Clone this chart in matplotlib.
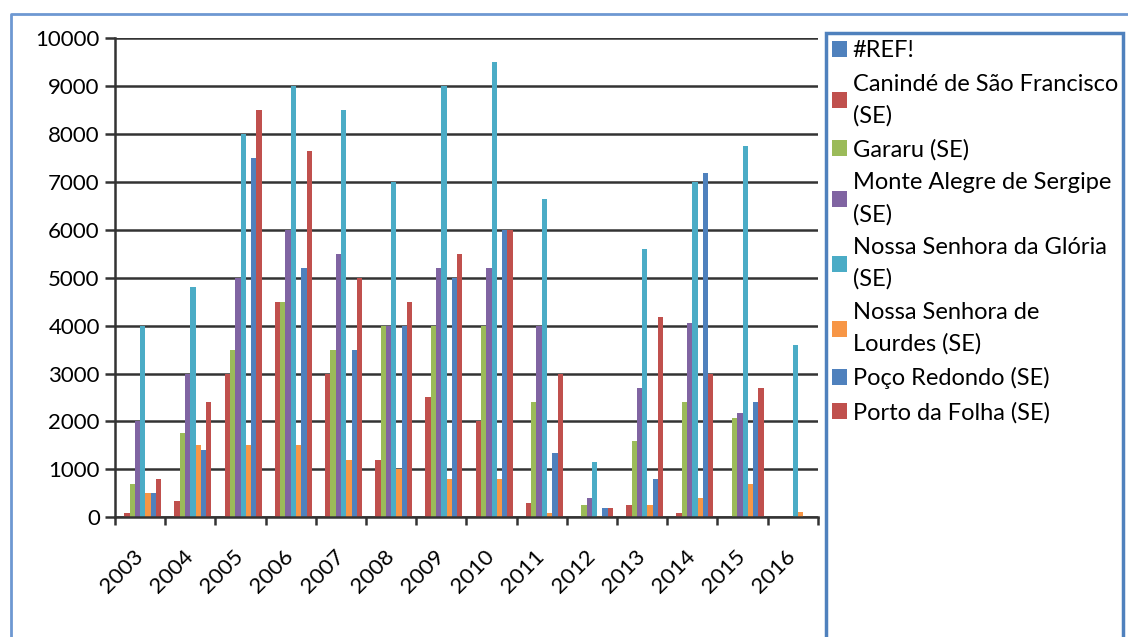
import numpy as np
import matplotlib
matplotlib.use("Agg")
import matplotlib.pyplot as plt
import matplotlib.transforms as mtransforms
from matplotlib.patches import Rectangle
from matplotlib.lines import Line2D
from matplotlib.ticker import MultipleLocator

plt.rcParams['font.family'] = ['Lato', 'DejaVu Sans']

# years on the x axis
years = ['2003', '2004', '2005', '2006', '2007', '2008', '2009',
         '2010', '2011', '2012', '2013', '2014', '2015', '2016']

# one list per municipality (the first series is a broken reference with no data)
ref_err = [0, 0, 0, 0, 0, 0, 0, 0, 0, 0, 0, 0, 0, 0]
caninde = [90, 340, 3000, 4500, 3000, 1200, 2500, 2000, 300, 0, 250, 90, 0, 0]
gararu = [700, 1750, 3500, 4500, 3500, 4000, 4000, 4000, 2400, 250, 1600, 2400, 2080, 0]
monte_alegre = [2000, 3000, 5000, 6000, 5500, 4000, 5200, 5200, 4000, 400, 2700, 4050, 2170, 0]
ns_gloria = [4000, 4800, 8000, 9000, 8500, 7000, 9000, 9500, 6650, 1150, 5600, 7000, 7760, 3600]
ns_lourdes = [510, 1500, 1500, 1500, 1200, 1000, 800, 800, 90, 30, 250, 400, 700, 100]
poco_redondo = [500, 1400, 7500, 5200, 3500, 4000, 5000, 6000, 1340, 190, 800, 7180, 2400, 0]
porto_folha = [800, 2400, 8500, 7650, 5000, 4500, 5500, 6000, 3000, 190, 4180, 3000, 2700, 0]

series = [ref_err, caninde, gararu, monte_alegre, ns_gloria, ns_lourdes,
          poco_redondo, porto_folha]
labels = ['#REF!', 'Canindé de São Francisco\n(SE)', 'Gararu (SE)',
          'Monte Alegre de Sergipe\n(SE)', 'Nossa Senhora da Glória\n(SE)',
          'Nossa Senhora de\nLourdes (SE)', 'Poço Redondo (SE)',
          'Porto da Folha (SE)']
colors = ['#4F81BD', '#C0504D', '#9BBB59', '#8064A2', '#4BACC6', '#F79646',
          '#4F81BD', '#C0504D']

fig = plt.figure(figsize=(11.28, 6.37), dpi=100)
ax = fig.add_axes([0.102, 0.188, 0.623, 0.752])

x = np.arange(len(years))
n = len(series)
w = 1.0 / 9.5
handles = []
for i, (vals, col) in enumerate(zip(series, colors)):
    b = ax.bar(x + (i - (n - 1) / 2) * w, vals, width=w, color=col,
               linewidth=0)
    handles.append(b)

ax.set_xlim(-0.5, len(years) - 0.5)
ax.set_ylim(0, 10000)
ax.yaxis.set_major_locator(MultipleLocator(1000))
ax.set_axisbelow(True)
ax.grid(axis='y', color='#333333', linewidth=1.8)

for s in ['top', 'right']:
    ax.spines[s].set_visible(False)
for s in ['left', 'bottom']:
    ax.spines[s].set_color('#333333')
    ax.spines[s].set_linewidth(1.8)

ax.set_xticks(x)
ax.set_xticklabels(years, rotation=45, ha='right', fontsize=16)
ax.set_xticks(np.arange(-0.5, len(years)), minor=True)
ax.tick_params(axis='x', which='major', length=0, pad=21)
ax.tick_params(axis='x', which='minor', length=6, width=1.8, color='#333333')
ax.tick_params(axis='y', length=7, width=1.8, color='#333333', pad=4,
               labelsize=16)

# nudge the slanted year labels a little to the right
shift = mtransforms.ScaledTranslation(7 / 100, 0, fig.dpi_scale_trans)
for lbl in ax.get_xticklabels():
    lbl.set_transform(lbl.get_transform() + shift)

# legend inside its own blue frame on the right
fig.patches.append(Rectangle((0.732, -0.02), 0.264, 0.968,
                             transform=fig.transFigure, fill=False,
                             edgecolor='#4F81BD', linewidth=2.5))
leg = fig.legend(handles, labels, loc='upper left',
                 bbox_to_anchor=(0.733, 0.944), frameon=False, fontsize=17,
                 handlelength=0.65, handleheight=0.65, handletextpad=0.25,
                 labelspacing=0.52, borderaxespad=0, borderpad=0.2)
for t in leg.get_texts():
    t.set_linespacing(1.58)

# outer chart frame (left and top edges)
fig.lines.append(Line2D([0.0098, 0.0098, 1.0], [0.0, 0.978, 0.978],
                        transform=fig.transFigure, color='#6E98D2',
                        linewidth=2))

fig.savefig('out.png', dpi=100)
